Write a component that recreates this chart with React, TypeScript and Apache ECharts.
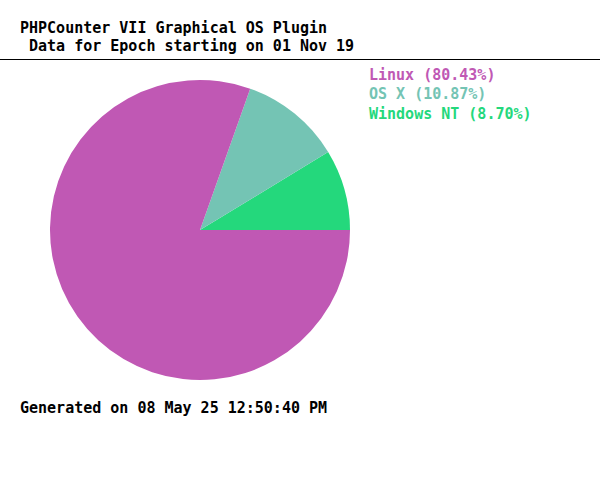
import React, { useEffect, useRef } from "react";
import * as echarts from "echarts";

// OS share for the epoch, drawn counter-clockwise from 3 o'clock
const osNames = ["Windows NT", "OS X", "Linux"];
const osShares = [8.7, 10.87, 80.43];
const osColors = ["#24d87c", "#74c4b4", "#c058b4"];
// legend lists the largest share first
const legendOrder = ["Linux", "OS X", "Windows NT"];

const titleText = "PHPCounter VII Graphical OS Plugin";
const subtitleText = " Data for Epoch starting on 01 Nov 19";
const footerText = "Generated on 08 May 25 12:50:40 PM";

const FONT = 'bold 15px "DejaVu Sans Mono"';

function label(x: number, y: number, text: string, fill: string) {
  return {
    type: "text",
    silent: true,
    style: { x, y, text, fill, font: FONT, lineHeight: 14, textVerticalAlign: "top" },
  };
}

export default function App() {
  const ref = useRef<HTMLDivElement>(null);

  useEffect(() => {
    if (!ref.current) return;
    const chart = echarts.init(ref.current, undefined, { renderer: "svg" });

    const legendTexts = legendOrder.map((name, i) => {
      const idx = osNames.indexOf(name);
      return label(369, 67.5 + 19.5 * i, `${name} (${osShares[idx].toFixed(2)}%)`, osColors[idx]);
    });

    chart.setOption({
      animation: false,
      backgroundColor: "#ffffff",
      series: [
        {
          type: "pie",
          center: [200, 230],
          radius: 150,
          startAngle: 0,
          clockwise: false,
          silent: true,
          label: { show: false },
          labelLine: { show: false },
          itemStyle: { borderWidth: 0 },
          emphasis: { disabled: true },
          data: osNames.map((name, i) => ({
            name,
            value: osShares[i],
            itemStyle: { color: osColors[i] },
          })),
        },
      ],
      graphic: [
        label(20, 21, titleText, "#000"),
        label(20, 38.5, subtitleText, "#000"),
        {
          type: "rect",
          silent: true,
          x: 0,
          y: 0,
          shape: { x: 0, y: 59, width: 600, height: 1 },
          style: { fill: "#000" },
        },
        ...legendTexts,
        label(20, 401, footerText, "#000"),
      ],
    });

    return () => chart.dispose();
  }, []);

  return (
    <div
      ref={ref}
      style={{ position: "absolute", left: 0, top: 0, width: 600, height: 500 }}
    />
  );
}
